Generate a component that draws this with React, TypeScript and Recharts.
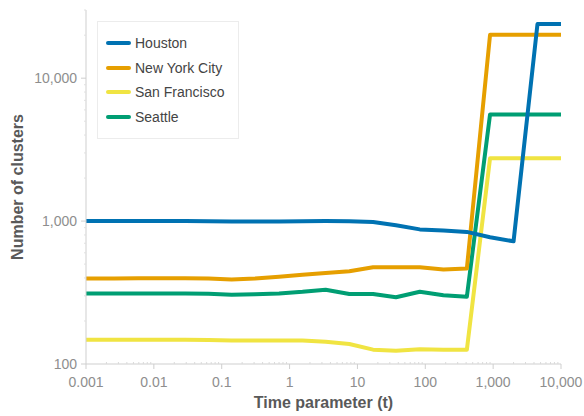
import React from 'react'
import { LineChart, Line, XAxis, YAxis } from 'recharts'

// time parameter values (log spaced samples)
const times = [0.001, 0.0026, 0.0059, 0.013, 0.029, 0.064, 0.14, 0.31, 0.7, 1.55, 3.4, 7.6, 17, 37, 83, 185, 410, 900, 2000, 4500, 10000]

const houston = [1000, 1000, 1000, 1000, 1000, 998, 995, 995, 995, 998, 1000, 998, 985, 935, 875, 860, 840, 770, 722, 23900, 23900]
const newYork = [396, 397, 398, 398, 398, 396, 390, 396, 408, 422, 434, 446, 475, 475, 475, 458, 466, 20100, 20100, 20100, 20100]
const sanFrancisco = [148, 148, 148, 148, 148, 147, 146, 146, 146, 146, 143, 138, 126, 124, 127, 126, 126, 2750, 2750, 2750, 2750]
const seattle = [311, 311, 311, 311, 311, 310, 305, 308, 312, 320, 331, 309, 309, 293, 320, 303, 295, 5580, 5580, 5580, 5580]

const series = [
  { key: 'houston', name: 'Houston', color: '#0072B2', values: houston },
  { key: 'nyc', name: 'New York City', color: '#E69F00', values: newYork },
  { key: 'sf', name: 'San Francisco', color: '#F0E442', values: sanFrancisco },
  { key: 'seattle', name: 'Seattle', color: '#009E73', values: seattle },
]
// draw order: Houston ends up on top
const drawOrder = ['seattle', 'sf', 'nyc', 'houston']

const xMajor = [0.001, 0.01, 0.1, 1, 10, 100, 1000, 10000]
const yMajor = [100, 1000, 10000]
const minorSteps = [2, 3, 4, 5, 6, 7, 8, 9]

const withMinor = (majors: number[], max: number) =>
  majors.flatMap(m => [m, ...minorSteps.map(s => m * s)]).filter(v => v <= max * 1.0001)

const xTicks = withMinor(xMajor, 10000)
const yTicks = withMinor(yMajor, 30000)

const isMajor = (v: number, majors: number[]) => majors.some(m => Math.abs(v / m - 1) < 1e-9)
const fmt = (v: number) => v.toLocaleString('en-US', { maximumFractionDigits: 3 })

const chartData = times.map((t, i) => {
  const row: Record<string, number> = { t }
  series.forEach(s => { row[s.key] = s.values[i] })
  return row
})

const FONT = '"Liberation Sans", Arial, Helvetica, sans-serif'
const AXIS = '#cfcfcf'
const TICK_TEXT = '#8e8e8e'

const XTick = (props: any) => {
  const { x, y, payload } = props
  const major = isMajor(payload.value, xMajor)
  return (
    <g>
      {major
        ? <line x1={x} x2={x} y1={y} y2={y + 5} stroke={AXIS} />
        : <line x1={x} x2={x} y1={y} y2={y - 2} stroke="#dadada" />}
      {major && (
        <text x={x} y={y + 23} textAnchor="middle" fill={TICK_TEXT} fontSize={14} fontFamily={FONT}>
          {fmt(payload.value)}
        </text>
      )}
    </g>
  )
}

const YTick = (props: any) => {
  const { x, y, payload } = props
  const major = isMajor(payload.value, yMajor)
  return (
    <g>
      <line x1={x - (major ? 5 : 2)} x2={x} y1={y} y2={y} stroke={major ? AXIS : '#e0e0e0'} />
      {major && (
        <text x={x - 9} y={y + 5} textAnchor="end" fill={TICK_TEXT} fontSize={14} fontFamily={FONT}>
          {fmt(payload.value)}
        </text>
      )}
    </g>
  )
}

const LegendBox = () => (
  <div
    style={{
      position: 'absolute',
      left: 97,
      top: 21,
      width: 140,
      height: 116,
      border: '1px solid #ececec',
      background: '#fff',
      fontFamily: FONT,
      fontSize: 14,
      color: '#444',
    }}
  >
    {series.map((s, i) => (
      <div
        key={s.key}
        style={{ position: 'absolute', left: 8, top: 9 + i * 24.7, height: 24, display: 'flex', alignItems: 'center' }}
      >
        <span style={{ display: 'inline-block', width: 25, height: 4, borderRadius: 2, background: s.color, marginRight: 4 }} />
        <span>{s.name}</span>
      </div>
    ))}
  </div>
)

export default function App() {
  return (
    <div style={{ position: 'absolute', left: 0, top: 0, width: 584, height: 416, background: '#fff' }}>
      <LineChart width={584} height={416} data={chartData} margin={{ top: 10, right: 23, bottom: 0, left: 0 }}>
        <XAxis
          dataKey="t"
          type="number"
          scale="log"
          domain={[0.001, 10000]}
          allowDataOverflow
          ticks={xTicks}
          interval={0}
          tickSize={0}
          tickMargin={0}
          tickLine={false}
          tick={<XTick />}
          stroke={AXIS}
          height={52}
        />
        <YAxis
          type="number"
          scale="log"
          domain={[100, 30000]}
          allowDataOverflow
          ticks={yTicks}
          interval={0}
          tickSize={0}
          tickMargin={0}
          tickLine={false}
          tick={<YTick />}
          stroke={AXIS}
          width={86}
        />
        {drawOrder.map(k => {
          const s = series.find(x => x.key === k)!
          return (
            <Line
              key={s.key}
              dataKey={s.key}
              name={s.name}
              type="linear"
              stroke={s.color}
              strokeWidth={4}
              strokeLinejoin="round"
              dot={false}
              activeDot={false}
              isAnimationActive={false}
            />
          )
        })}
        <text x={17} y={187} transform="rotate(-90 17 187)" textAnchor="middle" dominantBaseline="central"
          fill="#595959" fontSize={16} fontWeight="bold" fontFamily={FONT}>
          Number of clusters
        </text>
        <text x={323.5} y={408} textAnchor="middle" fill="#595959" fontSize={16} fontWeight="bold" fontFamily={FONT}>
          Time parameter (t)
        </text>
      </LineChart>
      <LegendBox />
    </div>
  )
}
